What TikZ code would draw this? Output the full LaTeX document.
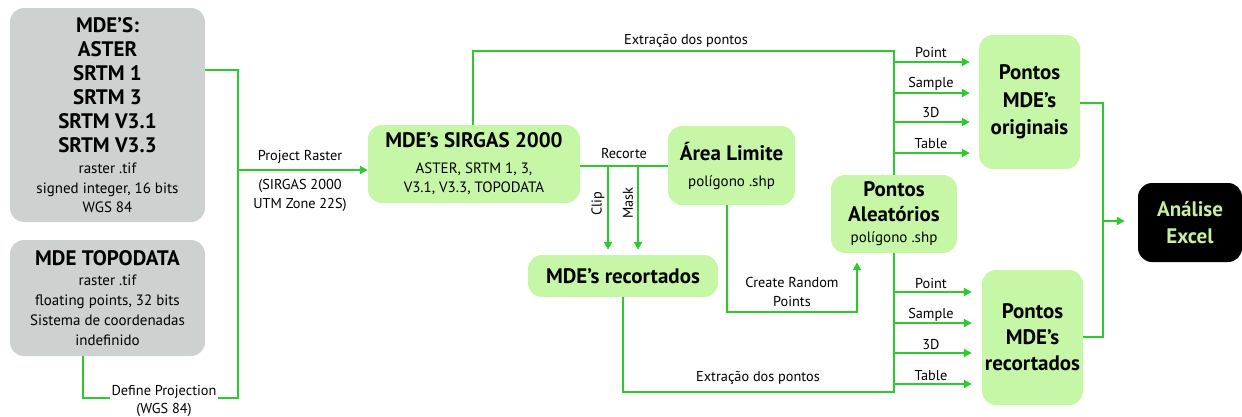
\documentclass[tikz,border=0pt]{standalone}
\usepackage{fontspec}
\setmainfont{PT Sans}
\usetikzlibrary{arrows.meta,calc}
\definecolor{boxgray}{HTML}{CDD1D0}
\definecolor{boxgreen}{HTML}{C6F7A6}
\definecolor{linegreen}{HTML}{2BCB2B}
\definecolor{txtgreen}{HTML}{C6F0A0}
\newcommand{\tbd}{\fontsize{21}{24}\selectfont\bfseries}
\newcommand{\txr}{\fontsize{15}{18}\selectfont\mdseries}
\begin{document}
\begin{tikzpicture}[x=1pt,y=-1pt,
  gbox/.style={fill=boxgray, rounded corners=14pt, inner sep=0pt, align=center, font=\tbd},
  lbox/.style={fill=boxgreen, rounded corners=14pt, inner sep=0pt, align=center, font=\tbd},
  bbox/.style={fill=black, text=txtgreen, rounded corners=14pt, inner sep=0pt, align=center, font=\tbd},
  conn/.style={draw=linegreen, line width=2pt},
  arr/.style={conn, -{Triangle[length=8pt,width=8pt]}},
  lbl/.style={inner sep=1pt, font=\fontsize{14.3}{19}\selectfont, align=center}]
\useasboundingbox (0,0) rectangle (1242,416);

% boxes
\node[gbox, minimum width=195pt, minimum height=214pt] (b1) at (107.5,115)
  {MDE’S:\\ASTER\\SRTM 1\\SRTM 3\\SRTM V3.1\\SRTM V3.3\\[-3pt]\txr raster .tif\\[-4pt]\txr signed integer, 16 bits\\[-4.5pt]\txr WGS 84};
\node[gbox, minimum width=195pt, minimum height=116pt] (b2) at (107.5,298)
  {MDE TOPODATA\\[-4pt]\txr raster .tif\\[-4pt]\txr floating points, 32 bits\\[-4pt]\txr Sistema de coordenadas\\[-4pt]\txr indefinido};
\node[lbox, minimum width=212pt, minimum height=78pt] (sir) at (474,164)
  {MDE’s SIRGAS 2000\\[2pt]\txr ASTER, SRTM 1, 3,\\[-5pt]\txr V3.1, V3.3, TOPODATA};
\node[lbox, minimum width=127pt, minimum height=79pt] (area) at (731.5,165.5)
  {Área Limite\\[2pt]\txr polígono .shp};
\node[lbox, minimum width=190pt, minimum height=42pt] (rec) at (623,276)
  {MDE’s recortados};
\node[lbox, minimum width=126pt, minimum height=78pt] (ale) at (894,214)
  {Pontos\\[1pt]Aleatórios\\[-3pt]\txr polígono .shp};
\node[lbox, minimum width=101pt, minimum height=134pt] (orig) at (1029.5,102)
  {Pontos\\[3.5pt]MDE’s\\[3.5pt]originais};
\node[lbox, minimum width=101pt, minimum height=135pt] (recp) at (1032.5,337.5)
  {Pontos\\[2pt]MDE’s\\[2pt]recortados};
\node[bbox, minimum width=104pt, minimum height=79pt] (an) at (1190,222.5)
  {Análise\\[3pt]Excel};

% input bus
\coordinate (j1) at (238,70);
\coordinate (j2) at (238,398);
\coordinate (j3) at (238,170);
\coordinate (j4) at (83,398);
\draw[conn] (b1.east |- j1) -- (j1) -- (j2) -- (j4) -- (j4 |- b2.south);
\draw[arr] (j3) -- (sir.west |- j3);
\node[lbl] (lpr) at (300,157) {Project Raster};
\node[lbl] (lsg) at (300,195) {(SIRGAS 2000\\UTM Zone 22S)};
\node[lbl, fill=white, inner sep=2pt] (ldp) at (164,392) {Define Projection};
\node[lbl] (lwgs) at (164,410) {(WGS 84)};

% top extraction
\coordinate (t1) at (473,51);
\coordinate (t2) at (894,51);
\draw[conn] (sir.north -| t1) -- (t1) -- (t2) -- (ale.north);
\node[lbl] (lex1) at (686,41) {Extração dos pontos};
\foreach \y/\t [count=\i] in {62/Point,93/Sample,122/3D,153/Table}{
  \coordinate (ta\i) at (894,\y);
  \draw[arr, shorten >=9pt] (ta\i) -- (orig.west |- ta\i);
  \node[lbl] (tl\i) at (931,\y-9) {\t};
}

% recorte
\draw[conn] (sir.east |- area.west) -- (area.west);
\node[lbl] (lrc) at (624,154) {Recorte};
\coordinate (c1) at (608,165.5);
\coordinate (c2) at (638,165.5);
\draw[arr, shorten >=5pt] (c1) -- (c1 |- rec.north);
\draw[arr, shorten >=5pt] (c2) -- (c2 |- rec.north);
\node[lbl, rotate=90] (lclip) at (598,204) {Clip};
\node[lbl, rotate=90] (lmask) at (628,203) {Mask};

% create random points
\coordinate (r1) at (727,312);
\coordinate (r2) at (857,312);
\draw[arr, shorten >=9pt] (area.south -| r1) -- (r1) -- (r2) -- (r2 |- ale.south);
\node[lbl] (lcr) at (792,292) {Create Random\\Points};

% bottom extraction
\coordinate (e1) at (623,392);
\coordinate (e2) at (894,392);
\draw[conn] (rec.south) -- (e1) -- (e2) -- (ale.south);
\node[lbl] (lex2) at (758,378) {Extração dos pontos};
\foreach \y/\t [count=\i] in {292/Point,323/Sample,353/3D,384/Table}{
  \coordinate (tb\i) at (894,\y);
  \draw[arr, shorten >=10pt] (tb\i) -- (recp.west |- tb\i);
  \node[lbl] (bl\i) at (931,\y-8) {\t};
}

% to analysis
\coordinate (k1) at (1103,103);
\coordinate (k2) at (1103,337);
\coordinate (k3) at (1103,221);
\draw[conn] (orig.east |- k1) -- (k1) -- (k2) -- (recp.east |- k2);
\draw[arr, shorten >=13pt] (k3) -- (an.west |- k3);
\end{tikzpicture}
\end{document}
